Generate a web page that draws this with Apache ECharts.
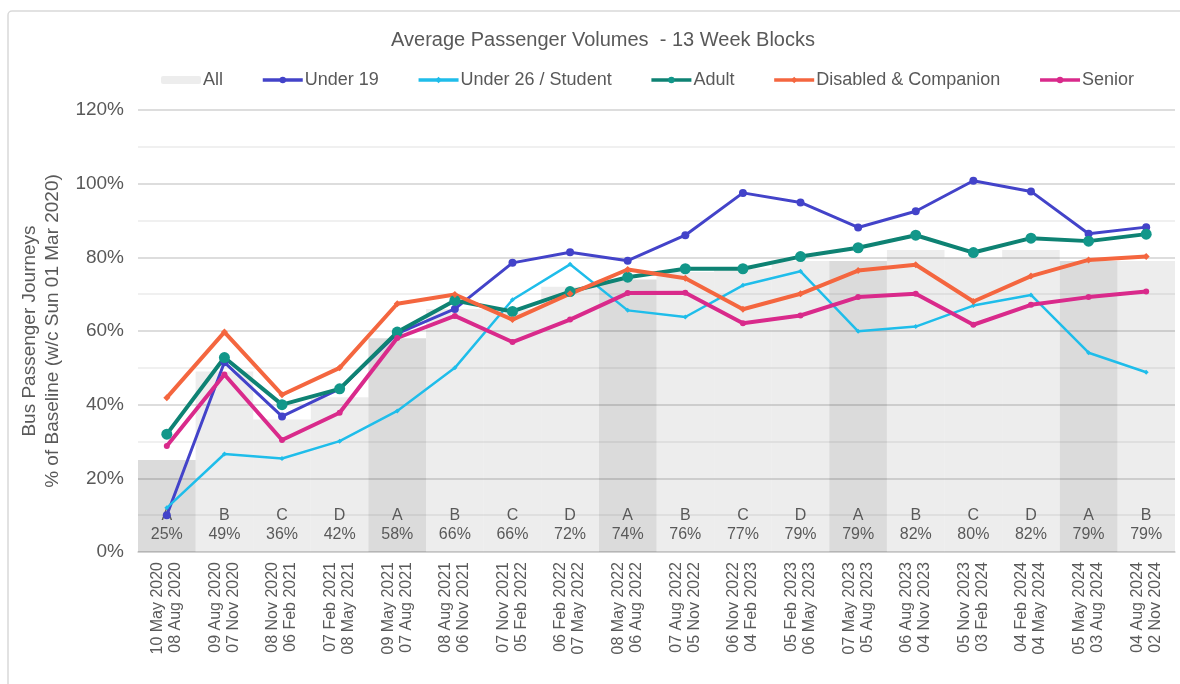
<!DOCTYPE html>
<html>
<head>
<meta charset="utf-8">
<title>Average Passenger Volumes</title>
<script src="https://cdn.jsdelivr.net/npm/echarts@6.0.0/dist/echarts.min.js"></script>
<style>
  html, body { margin: 0; padding: 0; background: #fff; }
  #chart { width: 1180px; height: 684px; }
</style>
</head>
<body>
<div id="chart"></div>
<script>
const categories = [
  '10 May 2020\n08 Aug 2020',
  '09 Aug 2020\n07 Nov 2020',
  '08 Nov 2020\n06 Feb 2021',
  '07 Feb 2021\n08 May 2021',
  '09 May 2021\n07 Aug 2021',
  '08 Aug 2021\n06 Nov 2021',
  '07 Nov 2021\n05 Feb 2022',
  '06 Feb 2022\n07 May 2022',
  '08 May 2022\n06 Aug 2022',
  '07 Aug 2022\n05 Nov 2022',
  '06 Nov 2022\n04 Feb 2023',
  '05 Feb 2023\n06 May 2023',
  '07 May 2023\n05 Aug 2023',
  '06 Aug 2023\n04 Nov 2023',
  '05 Nov 2023\n03 Feb 2024',
  '04 Feb 2024\n04 May 2024',
  '05 May 2024\n03 Aug 2024',
  '04 Aug 2024\n02 Nov 2024',
];
const blocks = ['A', 'B', 'C', 'D', 'A', 'B', 'C', 'D', 'A', 'B', 'C', 'D', 'A', 'B', 'C', 'D', 'A', 'B'];

// percent of baseline
const allPassengers = [25, 49, 36, 42, 58, 66, 66, 72, 74, 76, 77, 79, 79, 82, 80, 82, 79, 79];
const under19 = [10, 51.5, 36.8, 44.3, 59.3, 66, 78.5, 81.4, 79.1, 86, 97.5, 94.9, 88.1, 92.5, 100.8, 97.9, 86.4, 88.2];
const under26 = [12, 26.6, 25.4, 30.1, 38.3, 50, 68.5, 78.1, 65.6, 63.8, 72.4, 76.2, 59.9, 61.2, 66.9, 69.8, 54.1, 48.8];
const adult = [32, 52.8, 40, 44.3, 59.7, 68.3, 65.3, 70.7, 74.6, 76.9, 76.9, 80.2, 82.6, 86, 81.3, 85.2, 84.4, 86.3];
const disabled = [41.9, 59.7, 42.7, 50, 67.4, 69.9, 63.1, 70.1, 76.7, 74.3, 65.9, 70.1, 76.4, 78, 68, 74.9, 79.3, 80.2];
const senior = [28.8, 48.2, 30.4, 37.8, 58.1, 64.1, 57, 63.1, 70.3, 70.4, 62.1, 64.2, 69.2, 70.1, 61.7, 67.1, 69.2, 70.7];

const yTicks = [0, 20, 40, 60, 80, 100, 120];

const textColor = '#595959';
const fontFamily = "'Liberation Sans', Arial, sans-serif";

const lineSeries = (name, data, color, opts) => ({
  name,
  type: 'line',
  data,
  z: 3,
  symbol: opts.symbol,
  symbolSize: opts.symbolSize,
  lineStyle: { color, width: opts.width },
  itemStyle: { color: opts.markerColor || color },
  emphasis: { disabled: true },
});

const chart = echarts.init(document.getElementById('chart'));

chart.setOption({
  animation: false,
  textStyle: { fontFamily, color: textColor },
  title: {
    text: 'Average Passenger Volumes  - 13 Week Blocks',
    left: 598,
    top: 25,
    textAlign: 'center',
    textStyle: {
      fontSize: 20, fontWeight: 'normal', color: textColor, fontFamily,
    },
  },
  graphic: [{
    type: 'rect',
    silent: true,
    shape: {
      x: 8, y: 11, width: 1200, height: 700, r: 4,
    },
    style: { fill: 'none', stroke: '#d9d9d9', lineWidth: 1.5 },
  }],
  legend: {
    left: 156,
    top: 66,
    itemWidth: 40,
    itemHeight: 8,
    itemGap: 38,
    lineStyle: { width: 3.5 },
    textStyle: { fontSize: 18, color: textColor, padding: [0, 0, 0, -3] },
    data: ['All', 'Under 19', 'Under 26 / Student', 'Adult', 'Disabled & Companion', 'Senior'],
  },
  grid: {
    left: 138,
    right: 5,
    top: 110,
    bottom: 132,
  },
  xAxis: {
    type: 'category',
    data: categories,
    axisLine: { show: true, lineStyle: { color: '#d0d0d0', width: 1.5 } },
    axisTick: { show: false },
    axisLabel: {
      rotate: 90,
      margin: 10,
      fontSize: 16,
      lineHeight: 18,
      color: textColor,
      interval: 0,
    },
  },
  yAxis: {
    type: 'value',
    min: 0,
    max: 120,
    interval: 10,
    name: 'Bus Passenger Journeys\n% of Baseline (w/c Sun 01 Mar 2020)',
    nameLocation: 'middle',
    nameRotate: 90,
    nameGap: 72,
    nameTextStyle: { fontSize: 19, lineHeight: 23, color: textColor },
    axisLine: { show: false },
    axisTick: { show: false },
    axisLabel: {
      fontSize: 19,
      margin: 14,
      color: textColor,
      formatter: (v) => (yTicks.includes(v) ? `${v}%` : ''),
    },
    splitLine: {
      show: true,
      lineStyle: { color: ['#d2d2d2', '#ebebeb'], width: 1.5 },
    },
  },
  series: [
    {
      name: 'All',
      type: 'bar',
      barCategoryGap: '0%',
      z: 1,
      itemStyle: { color: 'rgba(0,0,0,0.07)' },
      data: allPassengers.map((v, i) => ({
        value: v,
        itemStyle: { color: blocks[i] === 'A' ? 'rgba(0,0,0,0.14)' : 'rgba(0,0,0,0.07)' },
      })),
      label: {
        show: true,
        position: 'insideBottom',
        distance: 8,
        fontSize: 16,
        lineHeight: 19,
        color: textColor,
        formatter: (p) => `${blocks[p.dataIndex]}\n${p.value}%`,
      },
      emphasis: { disabled: true },
    },
    lineSeries('Under 19', under19, '#4343c9', { symbol: 'circle', symbolSize: 8, width: 3 }),
    lineSeries('Under 26 / Student', under26, '#1fbdea', { symbol: 'diamond', symbolSize: 5, width: 2.5 }),
    lineSeries('Adult', adult, '#0e8273', {
      symbol: 'circle', symbolSize: 11, width: 4, markerColor: '#12978a',
    }),
    lineSeries('Disabled & Companion', disabled, '#f4663f', { symbol: 'diamond', symbolSize: 7, width: 4 }),
    lineSeries('Senior', senior, '#d92a8b', { symbol: 'circle', symbolSize: 6, width: 4 }),
  ],
});
</script>
</body>
</html>
